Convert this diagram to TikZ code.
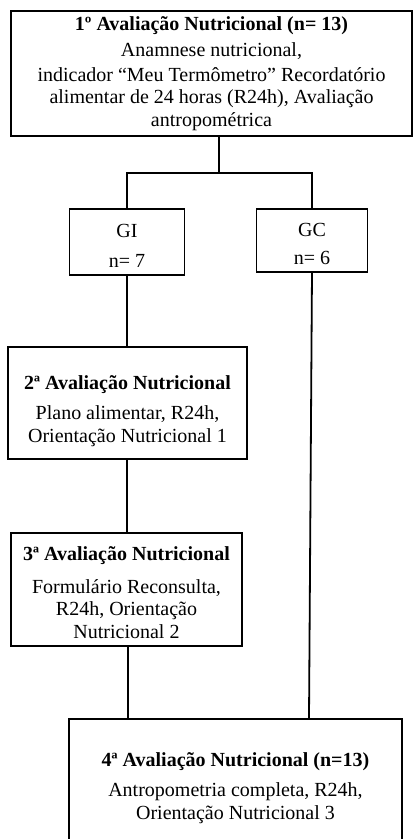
\documentclass[tikz,border=0pt]{standalone}
\usepackage{fontspec}
\setmainfont{Liberation Serif}
\begin{document}
\begin{tikzpicture}[x=1pt,y=-1pt,
  box/.style={draw, line width=1.8pt, inner sep=0pt, outer sep=0pt},
  txt/.style={inner sep=0pt, outer sep=0pt, align=center,
    font=\fontsize{20}{22.5}\selectfont},
  conn/.style={line width=1.8pt}]
\useasboundingbox (0,0) rectangle (418,839);
\clip (0,0) rectangle (418,839);
\fill[white] (0,0) rectangle (418,839);

\node[box, minimum width=401pt, minimum height=125pt] (b1) at (211.5,73.5) {};
\node[txt] (b1t) at (b1)
  {{\bfseries 1º Avaliação Nutricional (n= 13)}\\[3.5pt]
   Anamnese nutricional,\\[2.5pt]
   indicador “Meu Termômetro” Recordatório\\
   alimentar de 24 horas (R24h), Avaliação\\
   antropométrica};

\node[box, minimum width=115pt, minimum height=66pt] (gi) at (127,242) {};
\node[txt, yshift=-4pt] (git) at (gi) {GI\\[7.5pt] n= 7};
\node[box, minimum width=111pt, minimum height=63pt] (gc) at (312,240.5) {};
\node[txt, yshift=-3.5pt] (gct) at (gc) {GC\\[6pt] n= 6};

\node[box, minimum width=239pt, minimum height=112pt] (b2) at (127.5,403) {};
\node[txt, yshift=-8pt] (b2t) at (b2)
  {{\bfseries 2ª Avaliação Nutricional}\\[8pt]
   Plano alimentar, R24h,\\
   Orientação Nutricional 1};

\node[box, minimum width=231pt, minimum height=113pt] (b3) at (126.5,589.5) {};
\node[txt, yshift=-3pt] (b3t) at (b3)
  {{\bfseries 3ª Avaliação Nutricional}\\[10.5pt]
   Formulário Reconsulta,\\
   R24h, Orientação\\
   Nutricional 2};

\node[box, minimum width=333pt, minimum height=136pt] (b4) at (235.5,787) {};
\node[txt, yshift=-1pt] (b4t) at (b4)
  {{\bfseries 4ª Avaliação Nutricional (n=13)}\\[8pt]
   Antropometria completa, R24h,\\
   Orientação Nutricional 3};

\coordinate (split) at (219,173);
\coordinate (col) at (127,0);
\coordinate (gcend) at (309,719);
\coordinate (b3end) at (128,719);

\draw[conn] (b1.south -| split) -- (split);
\draw[conn] (gi.north) |- (split) -| (gc.north);
\draw[conn] (gi.south) -- (gi.south |- b2.north);
\draw[conn] (b2.south -| col) -- (b3.north -| col);
\draw[conn] (b3.south -| b3end) -- (b3end);
\draw[conn] (gc.south) -- (gcend);
\end{tikzpicture}
\end{document}
